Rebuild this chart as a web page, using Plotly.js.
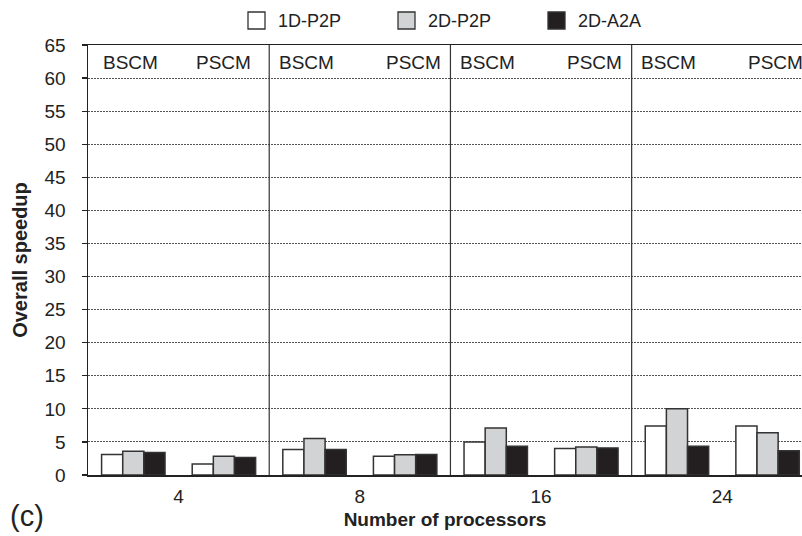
<!DOCTYPE html>
<html>
<head>
<meta charset="utf-8">
<script src="https://cdn.plot.ly/plotly-3.0.1.min.js"></script>
<style>html,body{margin:0;padding:0;background:#fff;overflow:hidden;}#chart{width:802px;height:536px;}</style>
</head>
<body>
<div id="chart"></div>
<script>
// Data
const processors = ['4', '8', '16', '24'];
const methods = ['BSCM', 'PSCM'];
const seriesNames = ['1D-P2P', '2D-P2P', '2D-A2A'];
// values ordered: for each processor count, BSCM then PSCM
const oneDP2P = [3.1, 1.65, 3.85, 2.85, 5.0, 4.0, 7.4, 7.4];
const twoDP2P = [3.6, 2.85, 5.5, 3.05, 7.1, 4.25, 10.0, 6.4];
const twoDA2A = [3.4, 2.65, 3.85, 3.1, 4.35, 4.1, 4.35, 3.65];

const nG = processors.length, nM = methods.length;
const xs = [];
for (let g = 0; g < nG; g++) for (let m = 0; m < nM; m++) xs.push(g * nM + m + 0.5);

const fills = ['#ffffff', '#d1d3d4', '#231f20'];
const vals = [oneDP2P, twoDP2P, twoDA2A];
const traces = vals.map((v, i) => ({
  type: 'bar', name: seriesNames[i], x: xs, y: v, showlegend: false,
  marker: {color: fills[i], line: {color: '#333333', width: 1.5}},
  hoverinfo: 'y'
}));

const FONT = 'Liberation Sans, Arial, sans-serif';
const shapes = [];
for (let g = 1; g < nG; g++) {
  shapes.push({type: 'line', xref: 'x', yref: 'y', x0: g * nM, x1: g * nM, y0: 0, y1: 65,
    line: {color: '#333', width: 1.2}});
}
const annotations = [];
for (let g = 0; g < nG; g++) {
  annotations.push({xref: 'x', yref: 'y', x: g * nM + 0.5, y: 62.3, text: methods[0], showarrow: false,
    xanchor: 'center', yanchor: 'middle', xshift: g === 0 ? -3 : -8, font: {family: FONT, size: 19, color: '#222'}});
  annotations.push({xref: 'x', yref: 'y', x: g * nM + 1.5, y: 62.3, text: methods[1], showarrow: false,
    xanchor: 'center', yanchor: 'middle', xshift: g === 0 ? 0 : 8, font: {family: FONT, size: 19, color: '#222'}});
}
annotations.push({xref: 'paper', yref: 'paper', x: -0.0854, y: -0.0953, text: '(c)', showarrow: false,
  xanchor: 'center', yanchor: 'middle', font: {family: FONT, size: 29, color: '#222'}});

// manual legend (17px boxes)
const legendLeft = [248, 398, 548];
seriesNames.forEach((name, i) => {
  const px = legendLeft[i];
  shapes.push({type: 'rect', xref: 'paper', yref: 'paper',
    x0: (px - 88) / 714, x1: (px + 17 - 88) / 714,
    y0: (475 - 29) / 430, y1: (475 - 12) / 430,
    fillcolor: fills[i], line: {color: '#333', width: 1.3}});
  annotations.push({xref: 'paper', yref: 'paper', x: (px + 28 - 88) / 714, y: (475 - 20.5) / 430,
    text: name, showarrow: false, xanchor: 'left', yanchor: 'middle',
    font: {family: FONT, size: 18, color: '#222'}});
});

const layout = {
  width: 802, height: 536,
  margin: {l: 88, r: 0, t: 45, b: 61},
  paper_bgcolor: '#fff', plot_bgcolor: '#fff',
  font: {family: FONT, color: '#222', size: 18},
  barmode: 'group', bargap: 0.3, bargroupgap: 0,
  showlegend: false,
  xaxis: {range: [0, 7.88], tickmode: 'array', tickvals: processors.map((p, g) => g * nM + nM / 2),
    ticktext: processors, showgrid: false, zeroline: false, showline: true, linecolor: '#222', linewidth: 1.5,
    mirror: true, ticks: '', ticklabelstandoff: 4, tickfont: {size: 19},
    title: {text: '<b>Number of processors</b>', font: {size: 19}, standoff: 6}},
  yaxis: {range: [0, 65], tickmode: 'linear', tick0: 0, dtick: 5, ticks: 'outside', ticklen: 5,
    tickcolor: '#222', tickwidth: 1.2, showline: true, linecolor: '#222', linewidth: 1.5,
    showgrid: true, gridcolor: '#555', griddash: '2px,1px', gridwidth: 1, zeroline: false,
    ticklabelstandoff: 12, tickfont: {size: 19},
    title: {text: '<b>Overall speedup</b>', font: {size: 20}, standoff: 11}},
  shapes: shapes, annotations: annotations
};
Plotly.newPlot('chart', traces, layout, {displayModeBar: false, staticPlot: true});
</script>
</body>
</html>
